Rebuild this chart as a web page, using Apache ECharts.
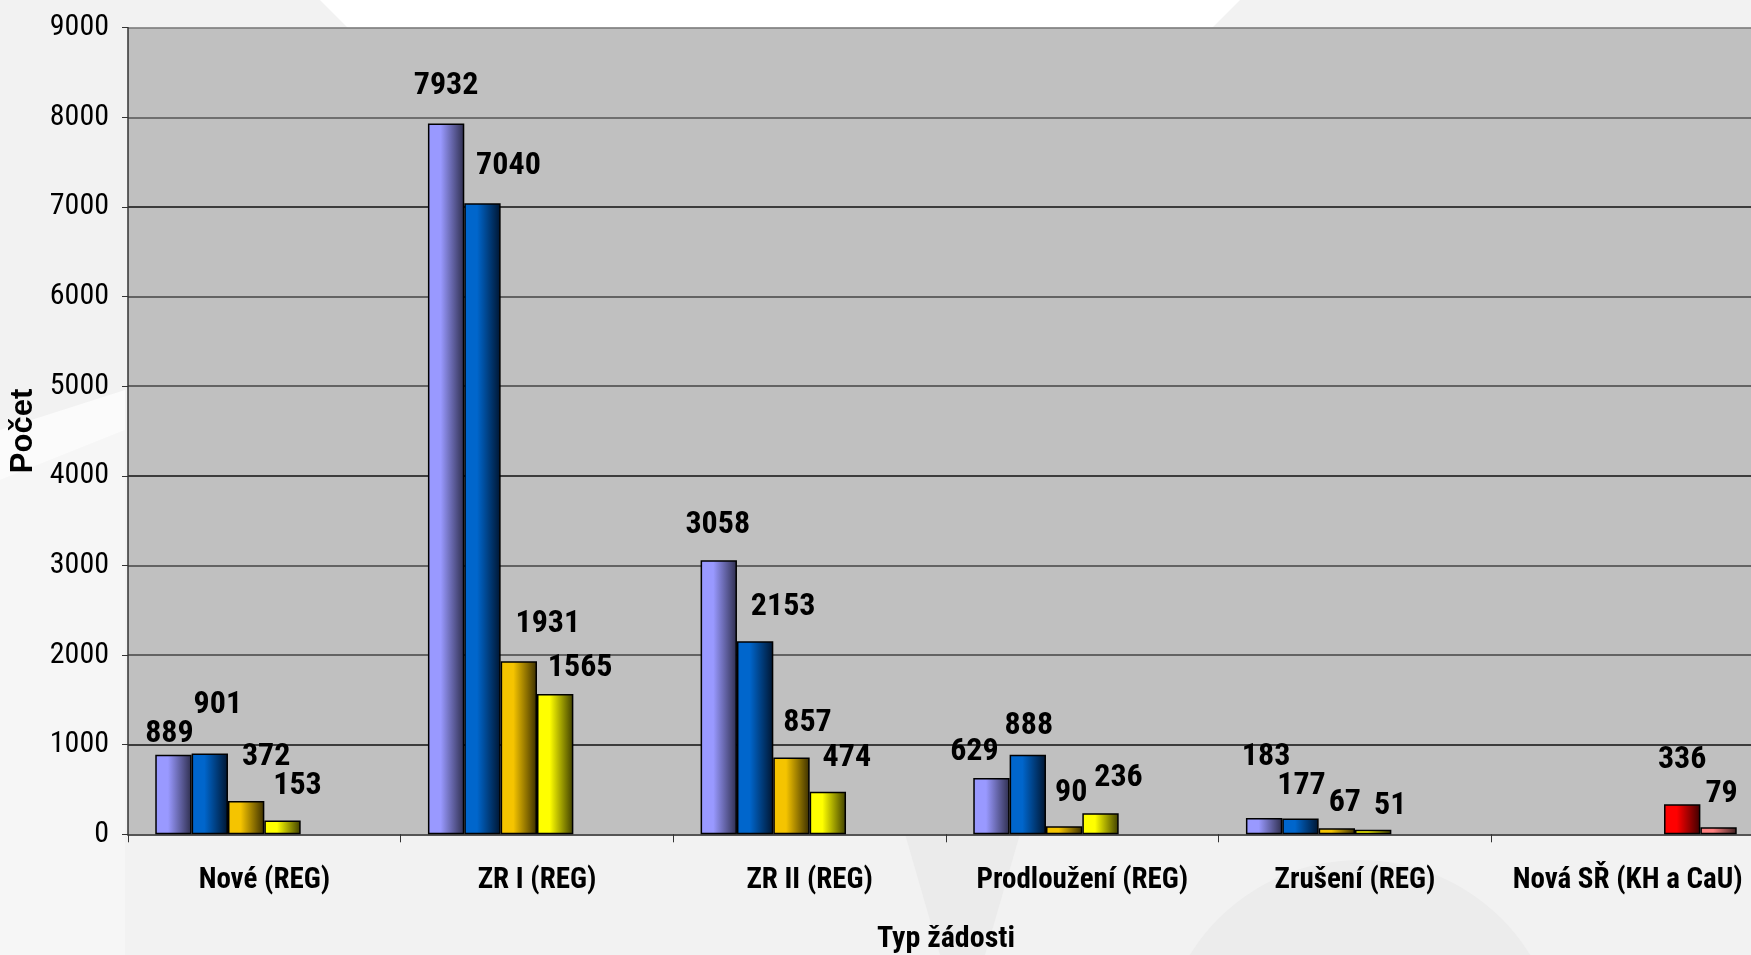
<!DOCTYPE html>
<html>
<head>
<meta charset="utf-8">
<title>Typ žádosti</title>
<script src="https://cdn.jsdelivr.net/npm/echarts@6/dist/echarts.min.js"></script>
<style>
  html, body { margin: 0; padding: 0; background: #f2f2f2; }
  #chart { width: 1751px; height: 955px; }
</style>
</head>
<body>
<div id="chart"></div>
<script>
  // kategorie na ose x
  const categories = ['Nové (REG)', 'ZR I (REG)', 'ZR II (REG)', 'Prodloužení (REG)', 'Zrušení (REG)', 'Nová SŘ (KH a CaU)'];
  // hodnoty jednotlivých řad (null = sloupec chybí)
  const rada1 = [889, 7932, 3058, 629, 183, null];
  const rada2 = [901, 7040, 2153, 888, 177, null];
  const rada3 = [372, 1931, 857, 90, 67, null];
  const rada4 = [153, 1565, 474, 236, 51, null];
  const rada5 = [null, null, null, null, null, 336];
  const rada6 = [null, null, null, null, null, 79];
  // osa y
  const yMin = 0, yMax = 9000, yStep = 1000;

  // úzké písmo (Roboto v zúženém řezu, font-stretch condensed)
  const narrow = "Roboto, 'Open Sans', sans-serif";
  const squeeze = 'condensed';

  // posun popisků (jako v excelu, kde byly ručně posunuté)
  const nudge = [
    [[-4, -24], [0, -40], [-1, -38], [-17, -29], [2, -64], null],
    [[8, -52], [26, -40], [28, -37], [1, -32], [1, -35], null],
    [[20, -47], [29, -40], [16, -37], [7, -36], [8, -28], null],
    [[15, -38], [25, -29], [19, -37], [18, -38], [17, -27], null],
    [null, null, null, null, null, [0, -47]],
    [null, null, null, null, null, [3, -36]]
  ];

  function grad(light, dark) {
    return new echarts.graphic.LinearGradient(0, 0, 1, 0, [
      {offset: 0, color: light},
      {offset: 0.35, color: light},
      {offset: 1, color: dark}
    ]);
  }

  const fills = [
    grad('#9999ff', '#2e2e4d'),
    grad('#0066cc', '#001530'),
    grad('#f5c400', '#3a2e00'),
    grad('#ffff00', '#3d3d00'),
    grad('#ff0000', '#3d0000'),
    grad('#ff8080', '#3d1f1f')
  ];

  const LH = 33;
  function makeSeries(name, values, idx) {
    return {
      name: name,
      type: 'bar',
      barGap: 0,
      barCategoryGap: '20%',
      itemStyle: {color: fills[idx], borderColor: '#000', borderWidth: 1.5},
      data: values.map(function (v, i) {
        const n = nudge[idx][i];
        if (v === null) return '-';
        return {
          value: v,
          label: {offset: n ? [n[0], n[1] + LH / 2 + 3] : [0, 0]}
        };
      }),
      label: {
        show: true,
        position: 'top',
        distance: 0,
        color: '#000',
        fontStyle: squeeze,
        fontFamily: narrow,
        fontWeight: 'bold',
        fontSize: 32,
        lineHeight: LH
      }
    };
  }

  const chart = echarts.init(document.getElementById('chart'), null, {renderer: 'canvas'});
  chart.setOption({
    backgroundColor: '#f2f2f2',
    animation: false,
    graphic: [
      {type: 'polygon', z: -10, shape: {points: [[320, 0], [1240, 0], [1200, 40], [360, 40]]}, style: {fill: '#ffffff'}},
      {type: 'polygon', z: -10, shape: {points: [[0, 470], [125, 420], [125, 955], [0, 955]]}, style: {fill: '#f6f6f6'}},
      {type: 'polygon', z: -10, shape: {points: [[0, 430], [125, 390], [125, 430], [0, 480]]}, style: {fill: '#fbfbfb'}},
      {type: 'circle', z: -10, shape: {cx: 1360, cy: 1060, r: 200}, style: {fill: '#ececec'}},
      {type: 'polygon', z: -10, shape: {points: [[905, 834], [1020, 834], [985, 955], [940, 955]]}, style: {fill: '#ebebeb'}}
    ],
    grid: {
      left: 128,
      top: 27.7,
      width: 1636,
      height: 806.6,
      outerBoundsMode: 'none',
      containLabel: false,
      show: true,
      backgroundColor: '#c0c0c0',
      borderWidth: 0
    },
    xAxis: {
      type: 'category',
      data: categories,
      name: 'Typ žádosti',
      nameLocation: 'middle',
      nameGap: 90,
      nameTextStyle: {fontStyle: squeeze, fontFamily: narrow, fontWeight: 'bold', fontSize: 30, color: '#000', lineHeight: 30},
      axisLine: {show: true, lineStyle: {color: '#555', width: 2}},
      axisTick: {show: true, interval: 0, length: 8, lineStyle: {color: '#333', width: 1}},
      axisLabel: {interval: 0, margin: 32, fontStyle: squeeze, fontFamily: narrow, fontWeight: 'bold', fontSize: 29, color: '#000', lineHeight: 29}
    },
    yAxis: {
      type: 'value',
      min: yMin,
      max: yMax,
      interval: yStep,
      name: 'Počet',
      nameLocation: 'middle',
      nameGap: 84,
      nameTextStyle: {fontFamily: "'Liberation Sans', Arial, sans-serif", fontWeight: 'bold', fontSize: 31, color: '#000'},
      axisLine: {show: true, lineStyle: {color: '#333', width: 1.5}},
      axisTick: {show: true, length: 6, lineStyle: {color: '#333', width: 1}},
      axisLabel: {
        margin: 19, fontStyle: squeeze, fontFamily: narrow, fontSize: 30, color: '#000',
        formatter: function (v) { return String(v); }
      },
      splitLine: {
        show: true,
        lineStyle: {
          color: ['#444', '#111', '#444', '#444', '#111', '#444', '#444', '#111', '#555', '#777'],
          width: 1.5
        }
      }
    },
    series: [
      makeSeries('Řada1', rada1, 0),
      makeSeries('Řada2', rada2, 1),
      makeSeries('Řada3', rada3, 2),
      makeSeries('Řada4', rada4, 3),
      makeSeries('Řada5', rada5, 4),
      makeSeries('Řada6', rada6, 5)
    ]
  });
</script>
</body>
</html>
